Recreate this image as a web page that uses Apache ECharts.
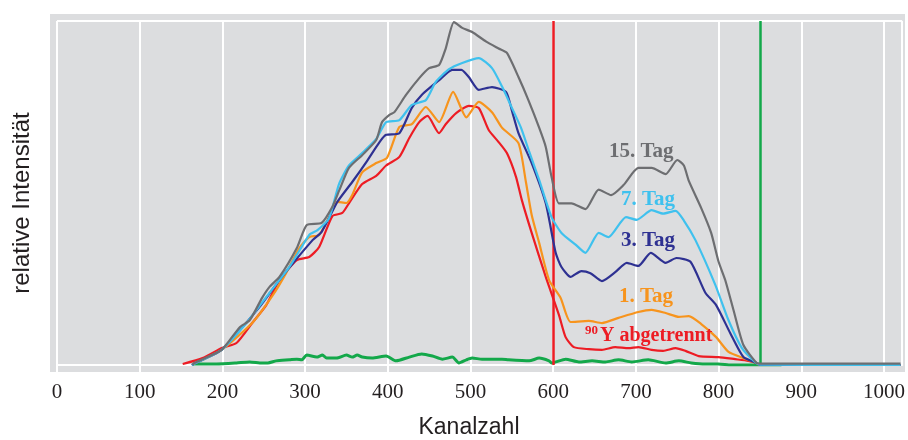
<!DOCTYPE html>
<html><head><meta charset="utf-8">
<script src="https://cdn.jsdelivr.net/npm/echarts@6/dist/echarts.min.js"></script>
<style>html,body{margin:0;padding:0;background:#fff}#c{width:908px;height:440px}</style>
</head><body><div id="c"></div>
<script>
const xTickStep = 100;
const xMin = 0, xMax = 1022;
const day15 = [[164,0],[166,0.6],[199,4.4],[221,11],[233,13],[248,19.5],[257,22.7],[269,25.6],[290,34],[302,40.7],[320,41.3],[333,46],[341,50.6],[353,57.3],[369,61],[386,65.4],[393,70.6],[402,72.7],[408,73.5],[422,78.5],[438,83.4],[450,86.3],[462,87.2],[470,92],[480,99.7],[490,98],[502,96.8],[519,94],[534,92],[544,90.7],[558,83.7],[570,77],[583,69],[591,63.4],[598,54.7],[607,47],[622,47],[639,45.3],[655,51],[670,49.4],[685,52.3],[703,57.3],[719,57.3],[736,55.5],[750,59.6],[758,58],[764,53.5],[779,45.6],[791,38.4],[800,30],[808,24.7],[818,16],[830,5.8],[846,0.6],[852,0.4],[1020,0.4]];
const day7 = [[163,0],[176,1.5],[199,4.4],[229,12.2],[257,21],[281,28.5],[305,37.8],[315,39.2],[329,42.7],[341,52.6],[353,58],[369,61.6],[386,65.7],[398,70.6],[414,71.2],[429,75.6],[446,77],[458,82.3],[474,86],[490,87.8],[510,89.2],[526,86.3],[538,81],[549,75.3],[561,69],[571,62],[583,53.8],[598,43],[610,38.4],[627,35],[639,32.6],[655,38.4],[667,37.2],[688,43],[701,42.2],[719,45],[733,44],[748,44.8],[758,42],[772,36.3],[796,23.3],[812,13],[828,5],[844,0.9],[850,0.1],[1020,0]];
const day3 = [[163,0],[176,1.5],[199,4.4],[245,16.9],[269,24.7],[309,36.3],[320,38.7],[339,47.4],[357,53.2],[374,59],[390,64.8],[398,66.9],[414,67.4],[429,74.7],[441,78.5],[462,82.8],[478,85.8],[489,85.8],[498,83.7],[510,80],[526,80.8],[543,79.4],[550,74],[558,67.4],[574,58.7],[591,47],[603,32.6],[610,28.5],[621,25.6],[634,27.3],[645,26.7],[659,24.4],[675,27],[689,29.7],[703,28.8],[718,32.6],[736,29.7],[749,31.1],[766,30],[784,21],[797,17.4],[814,9.3],[830,2.3],[846,0.6],[850,0],[1020,0]];
const day1 = [[163,0],[176,1.5],[199,4.4],[236,12.2],[261,20.3],[277,26.7],[293,34],[305,37.2],[317,37.8],[329,43],[339,47.4],[350,47.1],[357,49.4],[369,56],[386,58.7],[399,60.2],[414,69.2],[429,70],[446,75],[462,70.6],[479,79.4],[495,72],[510,76.5],[526,73.5],[538,69],[558,64.5],[567,53.2],[574,43.6],[583,35.5],[595,24.7],[609,19.5],[621,12.5],[643,12.8],[659,12.2],[679,13.7],[703,15.4],[719,16],[736,15.1],[752,14],[764,14.2],[779,11.9],[797,8.1],[812,3.8],[830,2],[846,0.6],[850,0],[1020,0]];
const y90 = [[152,0.3],[176,2],[200,5],[217,6.4],[236,12.2],[253,17.4],[269,24.7],[290,30.5],[305,31.4],[317,34.3],[333,43.3],[345,44.2],[353,47],[369,52.6],[386,55],[398,58],[414,60.5],[426,66],[438,70.6],[448,72.4],[462,67.4],[470,70],[483,73.3],[498,75.3],[510,74.7],[522,68.3],[534,64.8],[544,61.6],[555,54.7],[562,48],[574,38.4],[591,25.6],[607,14.5],[615,8.1],[625,5.2],[643,4.6],[659,4.4],[675,5.2],[691,4.9],[703,5.2],[719,4.4],[733,4.1],[748,4.9],[760,4.1],[776,2.6],[800,2.3],[820,1.7],[836,1.2],[846,0.6],[850,0],[1020,0]];
const reference = [[164,0.3],[193,0.3],[217,0.6],[233,0.9],[248,0.6],[255,0.6],[265,1.2],[281,1.5],[290,1.7],[296,1.5],[302,2.9],[314,2.3],[321,2.9],[326,2],[338,2],[350,2.9],[357,2.3],[363,2.9],[369,2.3],[381,2],[398,2.6],[410,1.2],[426,2.3],[441,3.2],[454,2.6],[466,1.7],[478,2.3],[486,0.6],[495,1.5],[502,2],[514,1.7],[538,1.7],[546,1.5],[571,1.2],[583,2],[595,1.2],[598,0.6],[615,1.7],[631,0.9],[647,1.2],[663,0.9],[679,1.5],[695,0.9],[715,1.5],[736,0.6],[752,1.2],[767,0.6],[784,0.3],[800,0.3],[815,0],[848,0],[876,0]];
const markers = [600, 850];
const seriesNames = ['15. Tag','7. Tag','3. Tag','1. Tag','90Y abgetrennt','Referenz'];
const colors = ['#6d6e71','#3fc1ee','#2e3192','#f7941d','#ed1c24','#13a84a'];

const chart = echarts.init(document.getElementById('c'), null, {renderer:'canvas'});
function line(name, data, color, w, z){
  return {name, type:'line', data, showSymbol:false, symbol:'none', z, smooth:0.2,
    lineStyle:{color, width:w}, itemStyle:{color}, animation:false};
}
const series = [
  line(seriesNames[5], reference, colors[5], 3, 3),
  line(seriesNames[4], y90, colors[4], 2.2, 4),
  line(seriesNames[3], day1, colors[3], 2.2, 5),
  line(seriesNames[2], day3, colors[2], 2.2, 6),
  line(seriesNames[1], day7, colors[1], 2.2, 7),
  line(seriesNames[0], day15, colors[0], 2.2, 8),
];
series.push({type:'line', data:[], z:9, animation:false,
  markLine:{silent:true, symbol:['none','none'], label:{show:false}, animation:false,
    data:[
      {xAxis:markers[0], lineStyle:{color:colors[4], width:2.5, type:'solid'}},
      {xAxis:markers[1], lineStyle:{color:colors[5], width:2.5, type:'solid'}}
    ]}});

const lblFont = 'bold 21px "Liberation Serif"';
chart.setOption({
  animation:false,
  backgroundColor:'#ffffff',
  grid:{left:57, right:3, top:21, bottom:75, containLabel:false},
  xAxis:{type:'value', min:xMin, max:xMax, interval:xTickStep,
    axisLine:{show:true, lineStyle:{color:'#ffffff', width:2}},
    axisTick:{show:true, length:7, lineStyle:{color:'#ffffff', width:2}},
    axisLabel:{show:true, showMaxLabel:false, margin:17, color:'#231f20', fontFamily:'Liberation Serif', fontSize:21,
      formatter: v => String(v)},
    splitLine:{show:true, lineStyle:{color:'#ffffff', width:2}}},
  yAxis:{type:'value', min:0, max:100, interval:100,
    axisLine:{show:false}, axisTick:{show:false}, axisLabel:{show:false},
    splitLine:{show:true, lineStyle:{color:'#ffffff', width:2}}},
  graphic:[
    {type:'rect', z:-10, silent:true, shape:{x:50, y:14, width:855, height:358}, style:{fill:'#dcdddf'}},
    {type:'text', z:20, x:469, y:428, style:{text:'Kanalzahl', font:'23px "Liberation Sans"', fill:'#231f20', align:'center', verticalAlign:'middle'}},
    {type:'text', z:20, x:22, y:203, rotation:Math.PI/2, style:{text:'relative Intensität', font:'24px "Liberation Sans"', fill:'#231f20', align:'center', verticalAlign:'middle'}},
    {type:'text', z:20, x:609, y:152, style:{text:'15. Tag', font:lblFont, fill:colors[0], verticalAlign:'middle'}},
    {type:'text', z:20, x:621, y:200, style:{text:'7. Tag', font:lblFont, fill:colors[1], verticalAlign:'middle'}},
    {type:'text', z:20, x:621, y:241, style:{text:'3. Tag', font:lblFont, fill:colors[2], verticalAlign:'middle'}},
    {type:'text', z:20, x:619, y:297, style:{text:'1. Tag', font:lblFont, fill:colors[3], verticalAlign:'middle'}},
    {type:'text', z:20, x:585, y:331, style:{text:'90', font:'bold 13px "Liberation Serif"', fill:colors[4], verticalAlign:'middle'}},
    {type:'text', z:20, x:600, y:336, style:{text:'Y abgetrennt', font:'bold 20px "Liberation Serif"', fill:colors[4], verticalAlign:'middle'}}
  ],
  series
});
</script></body></html>
